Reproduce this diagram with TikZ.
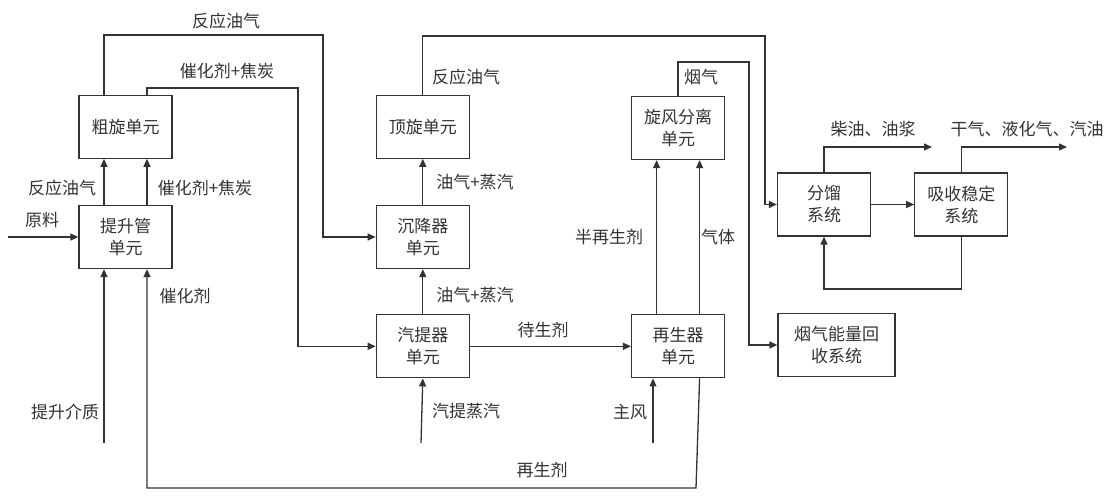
\documentclass[tikz,border=0pt]{standalone}
\usepackage{fontspec}
\setmainfont{Noto Sans CJK SC}
\usepackage{tikz}
\usetikzlibrary{positioning}
\usetikzlibrary{arrows.meta}
\definecolor{inkgray}{HTML}{333333}

\begin{document}
\begin{tikzpicture}[
        x=1pt, y=-1pt,
        every node/.style = {
        font=\fontsize{17}{22}\selectfont, text=inkgray
        },
        unit/.style = {draw=inkgray, line width=1.3pt, minimum width=93pt,
        minimum height=63pt, align=center, inner sep=2pt},
        flow/.style = {draw=inkgray, line width=1.3pt, -{Triangle[length=8pt,width=7pt]}},
        pipe/.style = {draw=inkgray, line width=1.3pt}
        ]
    \useasboundingbox (0,0) rectangle (1115,500);

    % units
    \node[unit] (riser) at (125.5,237) {提升管\\单元};
    \node[unit, above=46pt of riser] (rough) {粗旋单元};
    \node[unit, right=203pt of riser] (settler) {沉降器\\单元};
    \node[unit, above=46pt of settler] (topcyc) {顶旋单元};
    \node[unit, below=45pt of settler] (stripper) {汽提器\\单元};
    \node[unit, right=161pt of stripper] (regen) {再生器\\单元};
    \node[unit, above=154pt of regen] (sep) {旋风分离\\单元};
    \node[unit] (frac) at (824,204.5) {分馏\\系统};
    \node[unit, right=43pt of frac] (absorb) {吸收稳定\\系统};
    \node[unit, minimum width=117pt] (flue) at (836.5,345) {烟气能量回\\收系统};

    % free ends
    \coordinate (feed) at (8,237);
    \coordinate (lift) at (104,443);
    \coordinate (steam) at (421,443);
    \coordinate (air) at (653,443);
    \coordinate (roughturn) at (323,35);
    \coordinate (coketurn) at (298,88);
    \coordinate (topturn) at (765,36);
    \coordinate (flueturn) at (749,62);
    \coordinate (regenturn) at (696,488);
    \coordinate (dieselout) at (932,147);
    \coordinate (gasout) at (1067,147);
    \coordinate (recycle) at (900,289);

    % connectors
    \draw[flow] (feed) -- (riser.west);
    \draw[flow] (lift) -- (lift |- riser.south);
    \draw[flow] ([xshift=-21.5pt]riser.north) -- ([xshift=-21.5pt]rough.south);
    \draw[flow] ([xshift=21.5pt]riser.north) -- ([xshift=21.5pt]rough.south);
    \draw[flow] ([xshift=-21.5pt]rough.north) |- (roughturn) |- (settler.west);
    \draw[flow] ([xshift=21.5pt]rough.north) |- (coketurn) |- (stripper.west);
    \draw[flow] (settler.north) -- (topcyc.south);
    \draw[flow] (stripper.north) -- (settler.south);
    \draw[flow] (steam) -- (stripper.south);
    \draw[flow] (stripper.east) -- (regen.west);
    \draw[flow] (air) -- (air |- regen.south);
    \draw[flow] ([xshift=-21.5pt]regen.north) -- ([xshift=-21.5pt]sep.south);
    \draw[flow] ([xshift=21.5pt]regen.north) -- ([xshift=21.5pt]sep.south);
    \draw[flow] ([xshift=21.5pt]regen.south) -- (regenturn) -| ([xshift=21.5pt]riser.south);
    \draw[flow] (topcyc.north) |- (topturn) |- (frac.west);
    \draw[flow] (sep.north) |- (flueturn) |- (flue.west);
    \draw[flow] (frac.east) -- (absorb.west);
    \draw[flow] (frac.north) |- (dieselout);
    \draw[flow] (absorb.north) |- (gasout);
    \draw[flow] (absorb.south) |- (recycle) -| (frac.south);

    % stream labels
    \node (oil1) at (226,21) {反应油气};
    \node (coke1) at (227,71) {催化剂+焦炭};
    \node (oil2) at (62,188) {反应油气};
    \node (coke2) at (205,188) {催化剂+焦炭};
    \node (feedlbl) at (42,220) {原料};
    \node (cat) at (185,296) {催化剂};
    \node (liftlbl) at (65,412) {提升介质};
    \node (oil3) at (466,77) {反应油气};
    \node (vap1) at (475,182) {油气+蒸汽};
    \node (vap2) at (475,295) {油气+蒸汽};
    \node (steamlbl) at (466,411) {汽提蒸汽};
    \node (spent) at (543,330) {待生剂};
    \node (airlbl) at (630,412) {主风};
    \node (regcat) at (542,470) {再生剂};
    \node (semi) at (609,237) {半再生剂};
    \node (gaslbl) at (718,237) {气体};
    \node (fluelbl) at (701,77) {烟气};
    \node (diesel) at (873,129) {柴油、油浆};
    \node (gas) at (1027,129) {干气、液化气、汽油};
\end{tikzpicture}
\end{document}
